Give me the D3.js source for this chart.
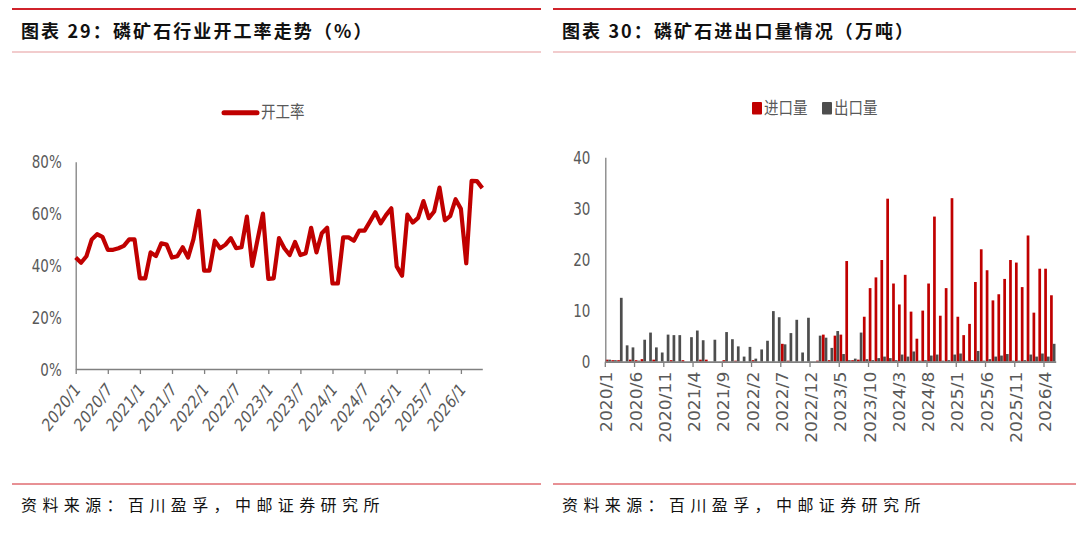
<!DOCTYPE html>
<html>
<head>
<meta charset="utf-8">
<script src="https://cdn.jsdelivr.net/npm/d3@7"></script>
<style>
  body { margin: 0; background: #fff; }
  svg { display: block; }
  .lbl { font-family: "Liberation Sans Narrow", "Arial Narrow", "DejaVu Sans Condensed", sans-serif; font-size: 15px; fill: #595959; }
  .cjk { font-family: "Noto Sans CJK SC", sans-serif; }
</style>
</head>
<body>
<div id="chart"></div>
<script>
// months 2020/1 .. 2026/5
var months = [
  "2020/1","2020/2","2020/3","2020/4","2020/5","2020/6","2020/7","2020/8","2020/9","2020/10","2020/11","2020/12",
  "2021/1","2021/2","2021/3","2021/4","2021/5","2021/6","2021/7","2021/8","2021/9","2021/10","2021/11","2021/12",
  "2022/1","2022/2","2022/3","2022/4","2022/5","2022/6","2022/7","2022/8","2022/9","2022/10","2022/11","2022/12",
  "2023/1","2023/2","2023/3","2023/4","2023/5","2023/6","2023/7","2023/8","2023/9","2023/10","2023/11","2023/12",
  "2024/1","2024/2","2024/3","2024/4","2024/5","2024/6","2024/7","2024/8","2024/9","2024/10","2024/11","2024/12",
  "2025/1","2025/2","2025/3","2025/4","2025/5","2025/6","2025/7","2025/8","2025/9","2025/10","2025/11","2025/12",
  "2026/1","2026/2","2026/3","2026/4","2026/5"
];

// 开工率 (%)
var utilRate = [
  43, 41, 43.5, 50, 52, 51, 46, 46, 46.6, 47.5, 50, 50,
  35, 35, 45, 43.6, 48.5, 48, 43, 43.5, 47, 43, 50, 61,
  38, 38, 49.5, 46.6, 48, 50.5, 46.6, 47, 58.8, 39.8, 50, 60,
  34.8, 35, 50.5, 46.6, 44, 49, 44, 44.7, 54.5, 45, 52.4, 54.5,
  33, 33, 50.8, 50.8, 49.5, 53.4, 53.4, 56.9, 60.5, 56.2, 59.4, 62,
  39.6, 36, 59.6, 56.5, 58.3, 64.8, 58.2, 60.8, 70, 57.4, 59, 65.5,
  61.8, 40.8, 72.6, 72.5, 69.8
];

// 进口量 / 出口量 (万吨)
var importVol = [
  0.4, 0.3, 0.3, 0, 0.4, 0.3, 0.5, 0, 0.4, 0, 0, 0.3,
  0, 0.3, 0, 0, 0.4, 0.4, 0, 0, 0.3, 0, 0.2, 0,
  0, 0.3, 0, 0, 0, 0, 3.5, 0.2, 0, 0, 0, 0,
  0.2, 5.3, 0.3, 5.1, 5.3, 19.7, 0.3, 0.4, 8.8, 14.4, 16.5, 19.9,
  31.9, 15.3, 11.2, 17.0, 9.8, 4.5, 10.0, 15.3, 28.4, 9.0, 14.4, 32.0,
  8.8, 5.2, 7.4, 15.6, 22.0, 17.9, 12.0, 13.2, 16.2, 19.9, 19.4, 14.6,
  24.7, 9.6, 18.2, 18.2, 13.0
];
var exportVol = [
  0.4, 0.3, 12.5, 3.2, 2.8, 0.2, 4.3, 5.7, 2.8, 1.8, 5.3, 5.2,
  5.2, 0, 4.8, 6.1, 4.2, 0, 4.3, 0, 5.8, 4.4, 3.0, 1.0,
  2.9, 0.6, 2.4, 4.1, 9.9, 8.7, 3.4, 5.6, 8.2, 1.8, 8.6, 0,
  5.1, 4.7, 2.7, 6.0, 1.5, 0.3, 0.6, 5.7, 0.5, 0.3, 0.7, 1.0,
  0.7, 0.3, 1.4, 1.0, 2.0, 0.2, 0.3, 1.2, 1.4, 0.2, 0.3, 1.4,
  1.6, 0.2, 0.3, 2.1, 0.2, 0.5, 1.0, 1.2, 1.5, 0.2, 0.2, 0.3,
  1.4, 1.0, 1.6, 1.0, 3.5
];

// tick labels
var leftTicks = ["2020/1","2020/7","2021/1","2021/7","2022/1","2022/7","2023/1","2023/7","2024/1","2024/7","2025/1","2025/7","2026/1"];
var rightTicks = ["2020/1","2020/6","2020/11","2021/4","2021/9","2022/2","2022/7","2022/12","2023/5","2023/10","2024/3","2024/8","2025/1","2025/6","2025/11","2026/4"];
var leftYTicks = [0, 20, 40, 60, 80];
var rightYTicks = [0, 10, 20, 30, 40];

var RED = "#c00000";
var GRAY = "#4d4d4d";
var AXIS = "#808080";
var STRETCH = 1.15;

var svg = d3.select("#chart")
  .append("svg")
  .attr("width", 1080)
  .attr("height", 534);

svg.append("rect").attr("width", 1080).attr("height", 534).attr("fill", "#fff");

// ---- frame: red rules, titles, source notes ----
var panels = [
  {x0: 12, x1: 541, title: "图表 29：磷矿石行业开工率走势（%）"},
  {x0: 553, x1: 1076, title: "图表 30：磷矿石进出口量情况（万吨）"}
];
panels.forEach(function(p) {
  svg.append("line").attr("x1", p.x0).attr("x2", p.x1).attr("y1", 9).attr("y2", 9)
    .attr("stroke", "#d0232b").attr("stroke-width", 2.2);
  svg.append("line").attr("x1", p.x0).attr("x2", p.x1).attr("y1", 52).attr("y2", 52)
    .attr("stroke", "#e6999c").attr("stroke-width", 1.2);
  svg.append("line").attr("x1", p.x0).attr("x2", p.x1).attr("y1", 484).attr("y2", 484)
    .attr("stroke", "#d0232b").attr("stroke-width", 1);
  svg.append("text").attr("class", "cjk")
    .attr("x", p.x0 + 9).attr("y", 38)
    .style("font-size", "18px").style("font-weight", 700).style("letter-spacing", "2.1px")
    .attr("fill", "#111")
    .text(p.title);
  svg.append("text").attr("class", "cjk")
    .attr("x", p.x0 + 9).attr("y", 511)
    .style("font-size", "16px").style("letter-spacing", "5.4px")
    .attr("fill", "#111")
    .text("资料来源：百川盈孚，中邮证券研究所");
});

// ---- left chart: line ----
var xL = d3.scalePoint().domain(months).range([75.7, 482.3]);
var yL = d3.scaleLinear().domain([0, 80]).range([369, 161.7]);

var left = svg.append("g");

var yAxisL = left.append("g")
  .attr("transform", "translate(75.7,0)")
  .call(d3.axisLeft(yL).tickValues(leftYTicks).tickSize(0).tickPadding(14).tickFormat(function(d) { return d + "%"; }));
yAxisL.select(".domain").attr("stroke", AXIS).attr("stroke-width", 1.3);
yAxisL.selectAll("text").attr("class", "lbl").attr("dy", "0.35em")
  .attr("transform", "scale(1," + STRETCH + ")");

var xAxisL = left.append("g")
  .attr("transform", "translate(0,369)")
  .call(d3.axisBottom(xL).tickValues(leftTicks).tickSize(5).tickSizeOuter(0));
xAxisL.select(".domain").attr("stroke", AXIS).attr("stroke-width", 1.6);
xAxisL.selectAll(".tick line").attr("stroke", AXIS).attr("stroke-width", 1.3);
xAxisL.selectAll("text").attr("class", "lbl")
  .attr("x", 0).attr("y", 0).attr("dy", "0.35em")
  .style("text-anchor", "end")
  .attr("transform", "translate(1,17) scale(1,1.22) rotate(-47)");

var line = d3.line()
  .x(function(d, i) { return xL(months[i]); })
  .y(function(d) { return yL(d); });

left.append("path")
  .datum(utilRate)
  .attr("fill", "none")
  .attr("stroke", RED)
  .attr("stroke-width", 4.2)
  .attr("stroke-linejoin", "round")
  .attr("d", line);

// legend
left.append("line").attr("x1", 224).attr("x2", 257).attr("y1", 112.7).attr("y2", 112.7)
  .attr("stroke", RED).attr("stroke-width", 5).attr("stroke-linecap", "round");
left.append("text").attr("class", "cjk")
  .attr("transform", "translate(261,112.5) scale(1," + STRETCH + ")")
  .attr("dy", "0.35em").style("font-size", "14.5px").attr("fill", "#595959")
  .text("开工率");

// ---- right chart: grouped bars ----
var xR = d3.scaleBand().domain(months).range([605.3, 1055.7]);
var xSub = d3.scaleBand().domain(["imp", "exp"]).range([0, xR.bandwidth()]).paddingOuter(0.08);
var yR = d3.scaleLinear().domain([0, 40]).range([361.7, 157.3]);

var right = svg.append("g");

var series = [
  {key: "imp", values: importVol, color: RED},
  {key: "exp", values: exportVol, color: GRAY}
];
series.forEach(function(s) {
  right.append("g").selectAll("rect")
    .data(s.values)
    .enter()
    .append("rect")
    .attr("x", function(d, i) { return xR(months[i]) + xSub(s.key); })
    .attr("y", function(d) { return yR(d); })
    .attr("width", xSub.bandwidth())
    .attr("height", function(d) { return yR(0) - yR(d); })
    .attr("fill", s.color);
});

var yAxisR = right.append("g")
  .attr("transform", "translate(605.3,0)")
  .call(d3.axisLeft(yR).tickValues(rightYTicks).tickSize(0).tickPadding(15));
yAxisR.select(".domain").attr("stroke", AXIS).attr("stroke-width", 1.3);
yAxisR.selectAll("text").attr("class", "lbl").attr("dy", "0.35em")
  .attr("transform", "scale(1," + STRETCH + ")");

var xAxisR = right.append("g")
  .attr("transform", "translate(0,361.7)")
  .call(d3.axisBottom(xR).tickValues(rightTicks).tickSize(0).tickSizeOuter(0));
xAxisR.select(".domain").attr("stroke", AXIS).attr("stroke-width", 1.8);
xAxisR.selectAll("text").attr("class", "lbl")
  .attr("x", 0).attr("y", 0).attr("dy", "0.35em")
  .style("text-anchor", "end")
  .attr("transform", "translate(-1,10) scale(1,1.27) rotate(-90)");

// tick marks sit between categories, every 5 months
right.append("g").selectAll("line")
  .data(rightTicks)
  .enter()
  .append("line")
  .attr("x1", function(d) { return xR(d); })
  .attr("x2", function(d) { return xR(d); })
  .attr("y1", 361.7).attr("y2", 367)
  .attr("stroke", AXIS).attr("stroke-width", 1.3);

// legend
var legR = [
  {name: "进口量", color: RED, x: 752},
  {name: "出口量", color: GRAY, x: 822}
];
legR.forEach(function(l) {
  right.append("rect").attr("x", l.x).attr("y", 102).attr("width", 10).attr("height", 12.5)
    .attr("rx", 1).attr("fill", l.color);
  right.append("text").attr("class", "cjk")
    .attr("transform", "translate(" + (l.x + 12) + ",108) scale(1," + STRETCH + ")")
    .attr("dy", "0.35em").style("font-size", "14.5px").attr("fill", "#595959")
    .text(l.name);
});
</script>
</body>
</html>
